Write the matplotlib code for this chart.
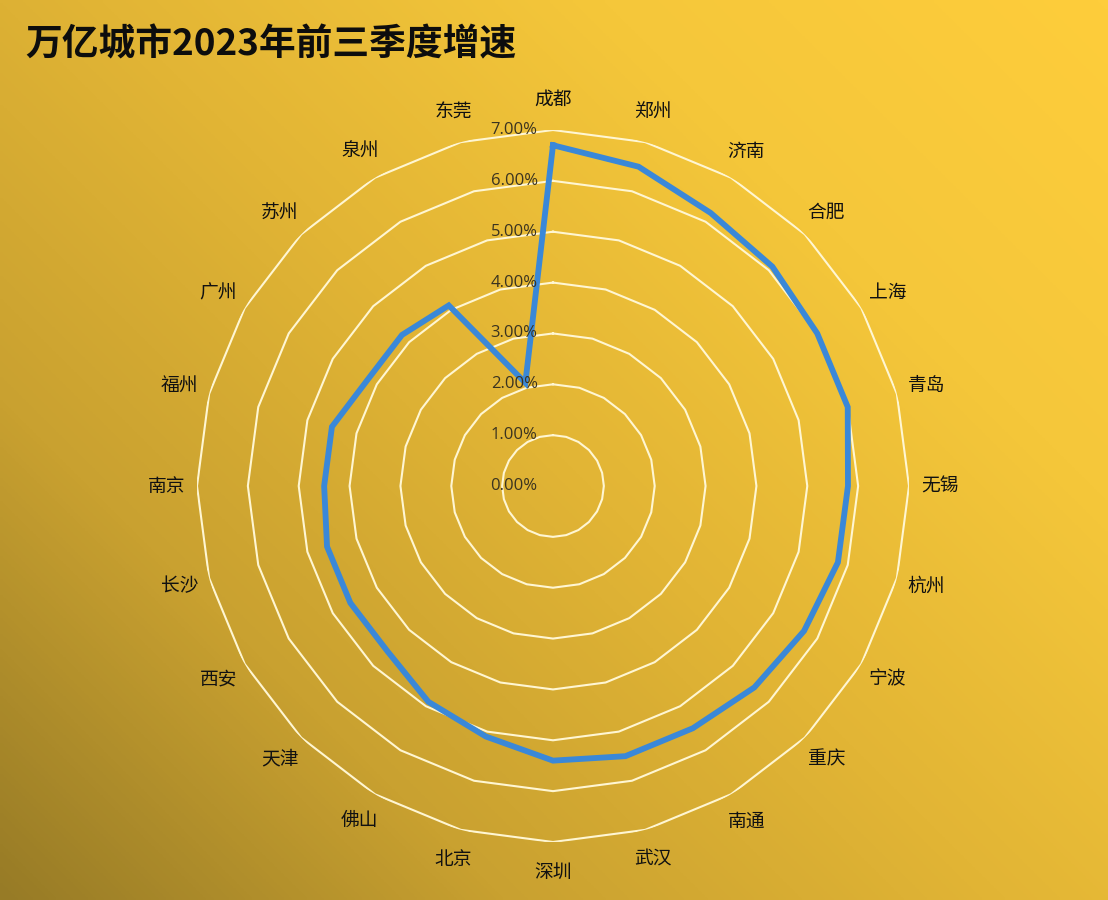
import numpy as np
import matplotlib.pyplot as plt
from matplotlib.colors import LinearSegmentedColormap

plt.rcParams['font.family'] = ['Noto Sans CJK SC', 'DejaVu Sans']

# data
cities = ['成都', '郑州', '济南', '合肥', '上海', '青岛', '无锡', '杭州',
          '宁波', '重庆', '南通', '武汉', '深圳', '北京', '佛山', '天津',
          '西安', '长沙', '南京', '福州', '广州', '苏州', '泉州', '东莞']
growth = [6.7, 6.5, 6.2, 6.1, 6.0, 6.0, 5.8, 5.8,
          5.7, 5.6, 5.5, 5.5, 5.4, 5.1, 4.9, 4.6,
          4.6, 4.6, 4.5, 4.5, 4.2, 4.2, 4.1, 2.1]
levels = [0, 1, 2, 3, 4, 5, 6, 7]
level_labels = ['0.00%', '1.00%', '2.00%', '3.00%', '4.00%', '5.00%', '6.00%', '7.00%']

W, H = 1108, 900
fig = plt.figure(figsize=(W / 100, H / 100), dpi=100)

# gradient background, dark bottom-left -> bright top-right
bg = fig.add_axes([0, 0, 1, 1], zorder=0)
gx, gy = np.meshgrid(np.linspace(0, 1, 300), np.linspace(0, 1, 300))
grad = (gx * 0.55 + gy * 0.45)
cmap = LinearSegmentedColormap.from_list(
    'bg', ['#977b26', '#c9a130', '#e2b535', '#f5c73a', '#fecd3b'])
bg.imshow(grad, cmap=cmap, origin='lower', extent=[0, 1, 0, 1], aspect='auto')
bg.axis('off')

# polar axes: centre at (553, 486) px, 7% radius = 356 px
cx, cy, R = 553, 486, 356
ax = fig.add_axes([(cx - R) / W, (H - cy - R) / H, 2 * R / W, 2 * R / H],
                  projection='polar', zorder=1)
ax.set_facecolor('none')
ax.set_theta_zero_location('N')
ax.set_theta_direction(-1)
ax.set_ylim(0, 7)
ax.grid(False)
ax.spines['polar'].set_visible(False)
ax.set_xticks([])
ax.set_yticks([])

n = len(cities)
theta = np.arange(n) * 2 * np.pi / n
theta_c = np.append(theta, theta[0])

# polygon gridlines
for lv in levels[1:]:
    ax.plot(theta_c, [lv] * (n + 1), color='#fff6d2', lw=1.5, zorder=2)

# data line, closed
ax.plot(theta_c, growth + growth[:1], color='#3a88d8', lw=4.2, zorder=3,
        solid_joinstyle='miter')

# radial tick labels
for lv, lab in zip(levels, level_labels):
    ax.annotate(lab, xy=(0, lv), xytext=(-11, 0), textcoords='offset points',
                ha='right', va='center', fontsize=12, color='#3a3320',
                family=['Open Sans', 'DejaVu Sans'], zorder=4)

# category labels
for t, c in zip(theta, cities):
    ax.text(t, 7.6, c, ha='center', va='center', fontsize=13.5,
            color='#111111', zorder=4)

fig.text(25 / W, 1 - 45 / H, '万亿城市2023年前三季度增速', fontsize=26.5,
         fontweight='bold', color='#0d0d0d', ha='left', va='center')

fig.savefig('out.png', dpi=100)
